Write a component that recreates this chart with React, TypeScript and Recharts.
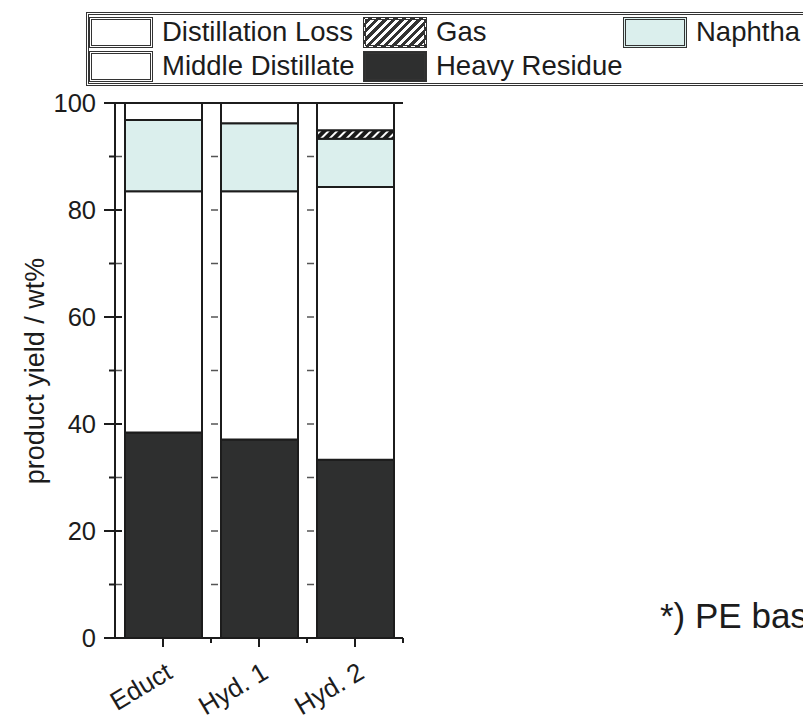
import React from "react";
import { BarChart, Bar, XAxis, YAxis, CartesianGrid, ReferenceLine } from "recharts";

const categories = ["Educt", "Hyd. 1", "Hyd. 2"];
const heavyResidue = [38.4, 37.1, 33.3];
const middleDistillate = [45.1, 46.4, 51.0];
const naphtha = [13.3, 12.7, 9.0];
const gas = [0, 0, 1.6];
const distillationLoss = [3.2, 3.8, 5.1];
const yTicks = [0, 10, 20, 30, 40, 50, 60, 70, 80, 90, 100];

const FONT = "'Liberation Sans', Arial, Helvetica, sans-serif";
const INK = "#1c1c1c";
const DARK = "#2e2f2f";
const CYAN = "#dbefed";

const data = categories.map((name, i) => ({
  name,
  heavy: heavyResidue[i],
  middle: middleDistillate[i],
  naphtha: naphtha[i],
  gas: gas[i],
  loss: distillationLoss[i],
}));

const YTick = ({ x, y, payload }: any) => {
  const major = payload.value % 20 === 0;
  return (
    <g>
      <line x1={major ? x - 11 : x - 6} x2={major ? x + 7 : x} y1={y} y2={y} stroke={INK} strokeWidth={2} />
      {major && (
        <text x={x - 19} y={y} dy={9} textAnchor="end" fontSize={25.5} fontFamily={FONT} fill={INK}>
          {payload.value}
        </text>
      )}
    </g>
  );
};

// category ticks with small minor marks at the band edges
const XTick = ({ x, y, payload, width, visibleTicksCount }: any) => {
  const half = width / visibleTicksCount / 2;
  const tx = x + 11;
  const ty = y + 39;
  return (
    <g>
      <line x1={x} x2={x} y1={y} y2={y + 9} stroke={INK} strokeWidth={2} />
      <line x1={x + half} x2={x + half} y1={y} y2={y + 5} stroke={INK} strokeWidth={2} />
      <text x={tx} y={ty} textAnchor="end" fontSize={26} fontFamily={FONT} fill={INK} transform={`rotate(-31, ${tx}, ${ty})`}>
        {payload.value}
      </text>
    </g>
  );
};

const legendItems = [
  { label: "Distillation Loss", bg: "#fff", left: 89, top: 17 },
  { label: "Gas", bg: "repeating-linear-gradient(135deg, #333 0 3px, #fff 3px 6px)", left: 363, top: 17 },
  { label: "Naphtha", bg: CYAN, left: 623, top: 17 },
  { label: "Middle Distillate", bg: "#fff", left: 89, top: 51 },
  { label: "Heavy Residue", bg: DARK, left: 363, top: 51 },
];

export default function App() {
  return (
    <div style={{ position: "absolute", left: 0, top: 0, width: 803, height: 721, overflow: "hidden", background: "#fff", fontFamily: FONT }}>
      <BarChart width={803} height={721} data={data} margin={{ top: 103, right: 400, bottom: 0, left: 0 }} barSize={77}>
        <defs>
          <pattern id="hatch" patternUnits="userSpaceOnUse" width="6" height="6" patternTransform="rotate(45)">
            <rect width="6" height="6" fill="#1a1a1a" />
            <rect width="2" height="6" fill="#fff" />
          </pattern>
        </defs>
        <CartesianGrid horizontal vertical={false} stroke="#555" strokeDasharray="7 9" strokeWidth={1.5} />
        <XAxis
          dataKey="name"
          height={83}
          tickLine={false}
          tickSize={0}
          tickMargin={0}
          axisLine={{ stroke: INK, strokeWidth: 2 }}
          tick={<XTick />}
          interval={0}
        />
        <YAxis
          width={115}
          domain={[0, 100]}
          ticks={yTicks}
          interval={0}
          tickLine={false}
          tickSize={0}
          tickMargin={0}
          axisLine={{ stroke: INK, strokeWidth: 2 }}
          tick={<YTick />}
          label={{
            value: "product yield / wt%",
            content: () => (
              <text x={35} y={371} textAnchor="middle" dominantBaseline="central" fontSize={27} fontFamily={FONT} fill={INK} transform="rotate(-90, 35, 371)">
                product yield / wt%
              </text>
            ),
          }}
        />
        <ReferenceLine y={100} stroke={INK} strokeWidth={2} />
        <Bar dataKey="heavy" stackId="a" fill={DARK} stroke={INK} strokeWidth={2} isAnimationActive={false} />
        <Bar dataKey="middle" stackId="a" fill="#fff" stroke={INK} strokeWidth={2} isAnimationActive={false} />
        <Bar dataKey="naphtha" stackId="a" fill={CYAN} stroke={INK} strokeWidth={2} isAnimationActive={false} />
        <Bar dataKey="gas" stackId="a" fill="url(#hatch)" stroke={INK} strokeWidth={2} isAnimationActive={false} />
        <Bar dataKey="loss" stackId="a" fill="#fff" stroke={INK} strokeWidth={2} isAnimationActive={false} />
      </BarChart>

      <div style={{ position: "absolute", left: 86, top: 12, width: 760, height: 68, border: "3px double #333", background: "#fff" }} />
      {legendItems.map((it) => (
        <React.Fragment key={it.label}>
          <div
            style={{
              position: "absolute",
              left: it.left,
              top: it.top,
              width: 58,
              height: 25,
              border: "3px double #333",
              background: it.bg,
            }}
          />
          <div style={{ position: "absolute", left: it.left + 73, top: it.top - 1, lineHeight: "32px", fontSize: 27.5, color: INK, whiteSpace: "nowrap" }}>
            {it.label}
          </div>
        </React.Fragment>
      ))}
      <div style={{ position: "absolute", left: 660, top: 598, fontSize: 35, lineHeight: "35px", color: INK, whiteSpace: "nowrap" }}>
        *) PE based
      </div>
    </div>
  );
}
